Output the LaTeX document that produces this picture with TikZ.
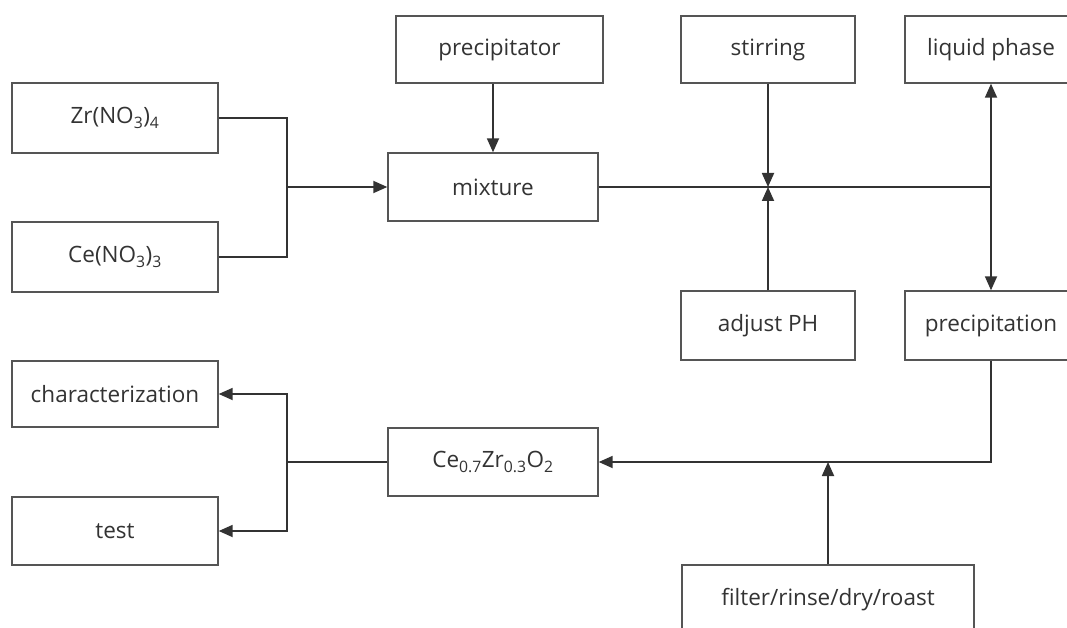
\documentclass[tikz,border=0pt]{standalone}
\usepackage{fontspec}
\setmainfont{Open Sans}
\usetikzlibrary{arrows.meta}
\definecolor{boxline}{HTML}{555555}
\definecolor{conn}{HTML}{333333}
\definecolor{txt}{HTML}{333333}
\tikzset{
  box/.style={draw=boxline, line width=1.4pt, fill=white, rectangle, inner sep=0pt,
    font=\fontsize{22.5}{26}\selectfont, text=txt},
  conline/.style={draw=conn, line width=1.8pt},
  arr/.style={conline, arrows={-Triangle[length=14pt,width=12pt]}}
}
\begin{document}
\begin{tikzpicture}[x=1pt,y=-1pt]
\useasboundingbox (0,0) rectangle (1067,628);
\clip (0,0) rectangle (1067,628);
\node[box, minimum width=206pt, minimum height=70pt] (zr) at (115,118) {Zr(NO\textsubscript{3})\textsubscript{4}};
\node[box, minimum width=206pt, minimum height=70pt] (ce3) at (115,257) {Ce(NO\textsubscript{3})\textsubscript{3}};
\node[box, minimum width=207pt, minimum height=67pt] (prec) at (499.5,49.5) {precipitator};
\node[box, minimum width=210pt, minimum height=68pt] (mix) at (493,187) {mixture};
\node[box, minimum width=174pt, minimum height=67pt] (stir) at (768,49.5) {stirring};
\node[box, minimum width=172pt, minimum height=67pt] (liq) at (991,49.5) {liquid phase};
\node[box, minimum width=174pt, minimum height=69pt] (adj) at (768,325.5) {adjust PH};
\node[box, minimum width=172pt, minimum height=69pt] (pion) at (991,325.5) {precipitation};
\node[box, minimum width=210pt, minimum height=68pt] (cezr) at (493,462) {Ce\textsubscript{0.7}Zr\textsubscript{0.3}O\textsubscript{2}};
\node[box, minimum width=206pt, minimum height=66pt] (char) at (115,394) {characterization};
\node[box, minimum width=206pt, minimum height=68pt] (test) at (115,531) {test};
\node[box, minimum width=292pt, minimum height=69pt] (filt) at (828,599.5) {filter/rinse/dry/roast};
\coordinate (j1) at (287,187);
\coordinate (j2) at (991,187);
\coordinate (j3) at (287,462);
\draw[conline] (zr.east) -| (j1);
\draw[conline] (ce3.east) -| (j1);
\draw[arr] (j1) -- (mix.west);
\draw[arr] (prec.south -| mix.north) -- (mix.north);
\draw[conline] (mix.east) -- (j2);
\draw[arr] (stir.south) -- (stir.south |- mix.east);
\draw[arr] (adj.north) -- (adj.north |- mix.east);
\draw[arr] (j2) -- (liq.south);
\draw[arr] (j2) -- (pion.north);
\draw[arr] (pion.south) |- (cezr.east);
\draw[arr] (filt.north) -- (filt.north |- cezr.east);
\draw[conline] (cezr.west) -- (j3);
\draw[arr] (j3) |- (char.east);
\draw[arr] (j3) |- (test.east);
\end{tikzpicture}
\end{document}
